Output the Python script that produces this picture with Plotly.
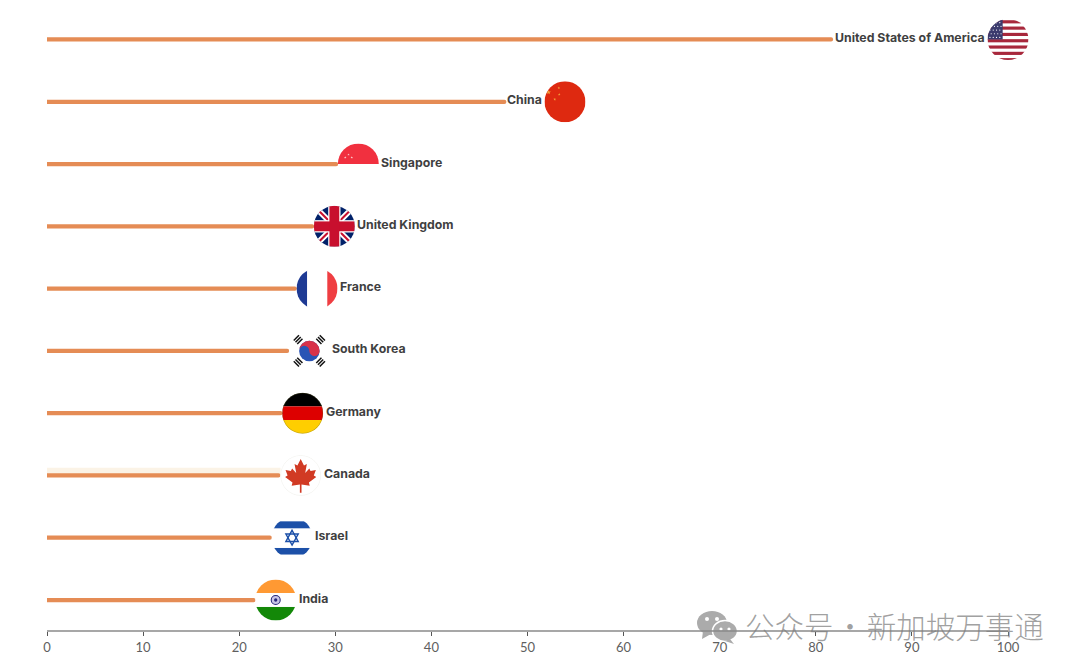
import base64
import math
import plotly.graph_objects as go

countries = ["United States of America", "China", "Singapore", "United Kingdom", "France",
             "South Korea", "Germany", "Canada", "Israel", "India"]
scores = [100, 53.9, 32.4, 29.9, 28.1, 27.3, 26.6, 26.4, 25.5, 23.8]
bar_ends = [81.8, 47.8, 30.3, 27.8, 26.0, 25.2, 24.5, 24.3, 23.4, 21.7]
tick_values = [0, 10, 20, 30, 40, 50, 60, 70, 80, 90, 100]

ORANGE = "#E58C55"
TEXT = "#3f3f41"
LABEL_LEFT = ["United States of America", "China"]

# the page body has an 8px margin, so the figure is 1072 x 662 and starts at (8, 8)
PAGE = 8
PLOT_W = 1072
PLOT_H = 623
X_PX = 9.61
Y_PX = 62.3
FLAG_PX = 41


def star(cx, cy, r, fill):
    pts = []
    for i in range(10):
        rr = r if i % 2 == 0 else r * 0.4
        a = -math.pi / 2 + i * math.pi / 5
        pts.append(f"{cx + rr * math.cos(a):.1f},{cy + rr * math.sin(a):.1f}")
    return f'<polygon points="{" ".join(pts)}" fill="{fill}"/>'


def rect(x, y, w, h, fill):
    return f'<rect x="{x}" y="{y}" width="{w}" height="{h}" fill="{fill}"/>'


def usa():
    s = rect(0, 0, 100, 100, "#ffffff")
    for i in range(7):
        s += rect(0, 3 + i * 15.4, 100, 7.7, "#A8283C")
    s += rect(0, 0, 37, 50, "#3C3B6E")
    for r in range(5):
        for c in range(4):
            s += f'<circle cx="{6 + c * 8 + (r % 2) * 3}" cy="{9 + r * 9}" r="1.5" fill="#fff"/>'
    return s


def china():
    s = rect(0, 0, 100, 100, "#DE2910")
    s += star(10, 27, 6, "#F2A33A") + star(35, 16, 3.5, "#F2A33A")
    s += star(36, 32, 3.5, "#F2A33A") + star(25, 44, 3.5, "#F2A33A")
    return s


def singapore():
    s = rect(0, 0, 100, 50, "#F1303F") + rect(0, 50, 100, 50, "#ffffff")
    s += star(18, 34, 3, "#fbd5d5") + star(26, 27, 3, "#fbd5d5") + star(34, 34, 3, "#fbd5d5")
    return s


def uk():
    s = rect(0, 0, 100, 100, "#012169")
    s += '<path d="M0 0L100 100M100 0L0 100" stroke="#fff" stroke-width="14"/>'
    s += '<path d="M0 0L100 100M100 0L0 100" stroke="#C8102E" stroke-width="5"/>'
    s += rect(0, 35, 100, 30, "#ffffff") + rect(35, 0, 30, 100, "#ffffff")
    s += rect(0, 38, 100, 24, "#C8102E") + rect(38, 0, 24, 100, "#C8102E")
    return s


def france():
    return rect(0, 0, 26, 100, "#1E3A94") + rect(26, 0, 49, 100, "#ffffff") + rect(75, 0, 25, 100, "#EF3E42")


def south_korea():
    s = rect(0, 0, 100, 100, "#ffffff")
    s += '<circle cx="50" cy="50" r="25" fill="#2A55B5"/>'
    s += '<path d="M25 50A25 25 0 0 1 75 50A12.5 12.5 0 0 1 50 50A12.5 12.5 0 0 0 25 50Z" fill="#D8324A"/>'
    for a in (45, 135, 225, 315):
        for d in (31, 37, 43):
            s += (f'<rect x="{50 + d}" y="41" width="3.6" height="18" fill="#111" '
                  f'transform="rotate({a} 50 50)"/>')
    return s


def germany():
    s = rect(0, 0, 100, 33.4, "#000000") + rect(0, 33.4, 100, 33.3, "#DD0000") + rect(0, 66.7, 100, 33.3, "#FFCE00")
    s += '<circle cx="50" cy="50" r="49.5" fill="none" stroke="#6b6b2a" stroke-width="1"/>'
    return s


def canada():
    leaf = ("50,10 58,26 65,22 61,44 71,33 74,39 87,37 82,50 88,54 70,67 72,75 52,72 "
            "52,92 48,92 48,72 28,75 30,67 12,54 18,50 13,37 26,39 29,33 39,44 35,22 42,26")
    s = rect(0, 0, 100, 100, "#ffffff")
    s += '<circle cx="50" cy="50" r="49" fill="none" stroke="#eeeeea" stroke-width="1.5"/>'
    s += f'<polygon points="{leaf}" fill="#D13A24"/>'
    return s


def israel():
    s = rect(0, 0, 100, 100, "#ffffff") + rect(0, 10, 100, 17, "#1C50A8") + rect(0, 75, 100, 16, "#1C50A8")
    s += '<polygon points="50,32 65,59 35,59" fill="none" stroke="#1C50A8" stroke-width="3.5"/>'
    s += '<polygon points="50,68 65,41 35,41" fill="none" stroke="#1C50A8" stroke-width="3.5"/>'
    return s


def india():
    s = rect(0, 0, 100, 33, "#FF9933") + rect(0, 33, 100, 34, "#ffffff") + rect(0, 67, 100, 33, "#138808")
    s += '<circle cx="50" cy="50" r="11" fill="#C9C6E8" stroke="#26267A" stroke-width="2.5"/>'
    s += '<circle cx="50" cy="50" r="4" fill="#26267A"/>'
    return s


def to_uri(body, w=100, h=100):
    svg = f'<svg xmlns="http://www.w3.org/2000/svg" width="{w}" height="{h}" viewBox="0 0 {w} {h}">{body}</svg>'
    return "data:image/svg+xml;base64," + base64.b64encode(svg.encode()).decode()


def flag_uri(body):
    return to_uri(f'<defs><clipPath id="c"><circle cx="50" cy="50" r="50"/></clipPath></defs><g clip-path="url(#c)">{body}</g>')


flags = [usa(), china(), singapore(), uk(), france(), south_korea(), germany(), canada(), israel(), india()]

wechat = ('<ellipse cx="15" cy="12" rx="15" ry="12" fill="#ababab"/>'
          '<polygon points="6,20 5,28 14,23" fill="#ababab"/>'
          '<ellipse cx="28" cy="20" rx="12.5" ry="10.5" fill="#ababab" stroke="#fff" stroke-width="1.5"/>'
          '<polygon points="33,28 37,33 28,30" fill="#ababab"/>'
          '<circle cx="10" cy="8" r="2" fill="#fff"/><circle cx="20" cy="8" r="2" fill="#fff"/>'
          '<circle cx="24" cy="18" r="1.6" fill="#fff"/><circle cx="32" cy="18" r="1.6" fill="#fff"/>')

fig = go.Figure()
# pale streak above the Canada bar
fig.add_trace(go.Bar(x=[bar_ends[7]], y=["Canada"], orientation="h", width=0.11, offset=-0.125,
                     marker=dict(color="#FBF3E6", line_width=0), hoverinfo="skip"))
fig.add_trace(go.Bar(x=bar_ends, y=countries, orientation="h", width=0.068,
                     marker=dict(color=ORANGE, line_width=0, cornerradius=2)))

for name, score, body in zip(countries, scores, flags):
    fig.add_layout_image(source=flag_uri(body), xref="x", yref="y", x=score, y=name,
                         sizex=FLAG_PX / X_PX, sizey=FLAG_PX / Y_PX, xanchor="center", yanchor="middle",
                         sizing="stretch", layer="above")
    left = name in LABEL_LEFT
    fig.add_annotation(x=score, y=name, text=name, showarrow=False,
                       xanchor="right" if left else "left",
                       xshift=-21 if left else 21, yshift=2,
                       font=dict(family="Inter", size=12.3, color=TEXT, weight=700))

fig.add_shape(type="line", xref="x", yref="paper", x0=0, x1=100, y0=0, y1=0,
              line=dict(color="#8a8a8a", width=1.5))

# watermark
fig.add_layout_image(source=to_uri(wechat, 40, 34), xref="paper", yref="paper",
                     x=(697 - PAGE) / PLOT_W, y=(631 - 611) / PLOT_H,
                     sizex=40 / PLOT_W, sizey=34 / PLOT_H, xanchor="left", yanchor="top",
                     sizing="stretch", layer="above")
fig.add_annotation(xref="paper", yref="paper", x=(743 - PAGE) / PLOT_W, y=(631 - 625) / PLOT_H,
                   text="公众号\u200a·\u200a新加坡万事通",
                   showarrow=False, xanchor="left", yanchor="middle",
                   font=dict(family="Noto Sans CJK SC", size=29.5, color="rgba(125,125,125,0.72)", weight=300))

fig.update_layout(
    width=PLOT_W, height=662, showlegend=False, barmode="overlay",
    paper_bgcolor="white", plot_bgcolor="white",
    margin=dict(l=0, r=0, t=0, b=39),
    xaxis=dict(range=[-(47 - PAGE) / X_PX, (PLOT_W - (47 - PAGE)) / X_PX], tickvals=tick_values,
               showgrid=False, zeroline=False, showline=False, ticks="outside", ticklen=4,
               tickwidth=1, tickcolor="#555555",
               tickfont=dict(family="Lato", size=13, color="#5f5f5f")),
    yaxis=dict(type="category", categoryorder="array", categoryarray=countries,
               range=[9 + 31 / Y_PX, -(39.5 - PAGE) / Y_PX], visible=False),
)

fig.write_html("out.html")
